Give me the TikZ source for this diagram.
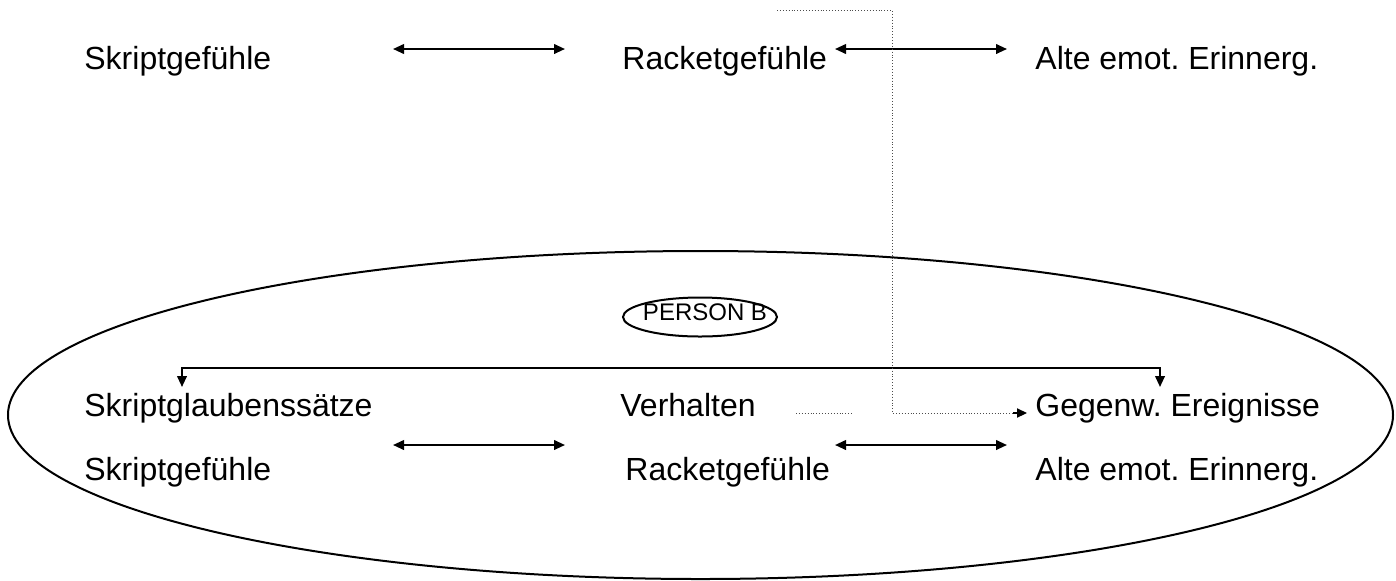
\documentclass[tikz,border=0pt]{standalone}
\usepackage{fontspec}
\setmainfont{Liberation Sans}
\usetikzlibrary{arrows.meta,shapes.geometric}
\frenchspacing
\begin{document}
\begin{tikzpicture}[x=0.5pt,y=-0.5pt,
  lbl/.style={anchor=base west,inner sep=0pt,font=\fontsize{16pt}{19pt}\selectfont},
  link/.style={line width=1pt,{Triangle[length=5.5pt,width=4.8pt]}-{Triangle[length=5.5pt,width=4.8pt]}},
  trace/.style={densely dotted,line width=0.45pt,black!70},
  tracetip/.style={line width=0.6pt,-{Triangle[length=5pt,width=4.6pt]}},
  tag/.style={ellipse,draw,line width=1pt,minimum width=77pt,minimum height=19.5pt,inner sep=0pt},
  region/.style={ellipse,draw,line width=1pt,minimum width=692.5pt,minimum height=164pt,inner sep=0pt}]
\useasboundingbox (0,0) rectangle (1396,580);

% outer region of person B
\node[region] (personB) at (700.5,415) {};
\node[tag] (tagB) at (700,317) {};
\node[anchor=base,inner sep=0pt,font=\fontsize{12pt}{14pt}\selectfont] (tagtext) at (705,320) {PERSON B};

% upper row
\node[lbl] (sg1) at (84,69) {Skriptgefühle};
\node[lbl] (rg1) at (622,69) {Racketgefühle};
\node[lbl] (ae1) at (1035,69) {Alte emot. Erinnerg.};

% rows inside the region
\node[lbl] (sgs) at (84,416) {Skriptglaubenssätze};
\node[lbl] (vh)  at (620,416) {Verhalten};
\node[lbl] (ge)  at (1035,416) {Gegenw. Ereignisse};
\node[lbl] (sg2) at (84,480) {Skriptgefühle};
\node[lbl] (rg2) at (625,480) {Racketgefühle};
\node[lbl] (ae2) at (1035,480) {Alte emot. Erinnerg.};

% arrow ends
\coordinate (t1a) at (393,49);  \coordinate (t1b) at (565,49);
\coordinate (t2a) at (835,49);  \coordinate (t2b) at (1007,49);
\coordinate (b1a) at (393,445); \coordinate (b1b) at (565,445);
\coordinate (b2a) at (835,445); \coordinate (b2b) at (1007,445);
\coordinate (kl) at (182,387);  \coordinate (kr) at (1160,387);
\coordinate (d0) at (777,10);   \coordinate (d1) at (892,413);
\coordinate (e0) at (796,413);  \coordinate (e1) at (853,413);

% double arrows
\draw[link] (t1a) -- (t1b);
\draw[link] (t2a) -- (t2b);
\draw[link] (b1a) -- (b1b);
\draw[link] (b2a) -- (b2b);

% bracket from belief to present events
\draw[link] (kl) -- ++(0,-19) -| (kr);

% dotted trace into present events
\draw[trace] (e0) -- (e1);
\draw[trace] (d0) -| (d1) -- ([xshift=-10pt]d1 -| ge.west);
\draw[tracetip] ([xshift=-11pt]d1 -| ge.west) -- ([xshift=-4pt]d1 -| ge.west);
\end{tikzpicture}
\end{document}
